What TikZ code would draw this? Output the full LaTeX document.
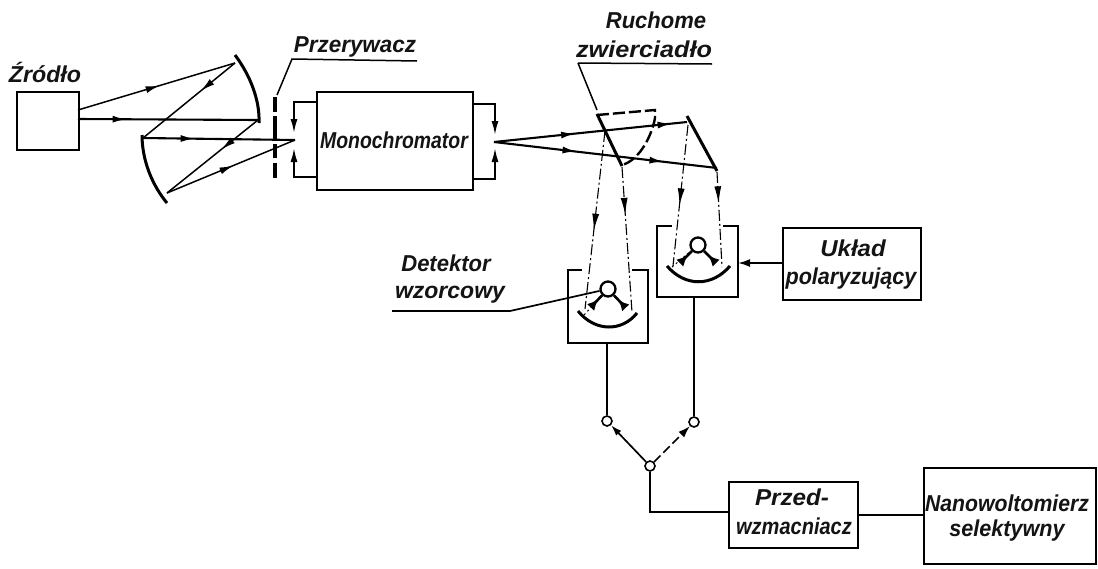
\documentclass[tikz,border=0pt]{standalone}
\usepackage{fontspec}
\setmainfont{Liberation Sans}
\usetikzlibrary{arrows.meta,decorations.markings}
\newcommand{\sxx}[2]{\scalebox{#1}[1]{\scalebox{0.87}[1]{#2}}}
\tikzset{
  x=1pt,y=-1pt,
  lbl/.style={font=\fontsize{23}{27}\selectfont\bfseries\itshape,inner sep=0pt,align=center,text=black!92},
  boxn/.style={draw,line width=2.1pt,inner sep=0pt,anchor=north west},
  ray/.style={line width=1.5pt},
  rayb/.style={line width=2.1pt},
  wire/.style={line width=1.8pt},
  lead/.style={line width=1.5pt},
  mirror/.style={line width=3pt},
  ddot/.style={line width=1.1pt,dash pattern=on 11pt off 3pt on 2pt off 3pt},
  midarr/.style={postaction={decorate,decoration={markings,mark=at position #1 with {\arrow{Latex[length=14pt,width=7pt]}}}}},
  midlong/.style={postaction={decorate,decoration={markings,mark=at position #1 with {\arrow{Latex[length=17pt,width=7pt]}}}}},
  wedge/.style={line width=2.6pt,postaction={decorate,decoration={markings,mark=at position .62 with {\arrow{Latex[length=11pt,width=10pt]}}}}},
  pin/.style={draw,circle,line width=1.6pt,minimum size=10pt,inner sep=0pt,fill=white},
  pivot/.style={draw,circle,line width=2.3pt,minimum size=15pt,inner sep=0pt,fill=white},
}
\begin{document}
\begin{tikzpicture}
\useasboundingbox (0,0) rectangle (1098,568);
\fill[white] (0,0) rectangle (1098,568);
% boxes
\node[boxn,minimum width=62pt,minimum height=58pt] (src) at (16,91) {};
\node[boxn,minimum width=156pt,minimum height=98pt] (mono) at (316,91) {};
\node[boxn,minimum width=138pt,minimum height=72pt] (pol) at (782,227) {};
\node[boxn,minimum width=129pt,minimum height=66pt] (pre) at (728,481) {};
\node[boxn,minimum width=172pt,minimum height=96pt] (nano) at (923,467) {};
% labels
\node[lbl] (monot) at (394,140) {\sxx{.97}{Monochromator}};
\node[lbl] (t1) at (45,72) {\sxx{1.16}{Źródło}};
\node[lbl] (t2) at (355,47) {\sxx{1.12}{Przerywacz}};
\node[lbl] (t3) at (656,20) {\sxx{1.1}{Ruchome}};
\node[lbl] (t4) at (644,49) {\sxx{1.26}{zwierciadło}};
\node[lbl] (t5) at (446,263) {\sxx{1.1}{Detektor}};
\node[lbl] (t6) at (450,295) {\sxx{1.15}{wzorcowy}};
\node[lbl] (t7) at (853,248) {\sxx{1.2}{Układ}};
\node[lbl] (t8) at (851,279) {\sxx{1.08}{polaryzujący}};
\node[lbl] (t9) at (792,497) {\sxx{1.21}{Przed-}};
\node[lbl] (t10) at (794,526) {\sxx{1.0}{wzmacniacz}};
\node[lbl] (t11) at (1007,503) {\sxx{1.06}{Nanowoltomierz}};
\node[lbl] (t12) at (1007,531) {\sxx{1.08}{selektywny}};
% points
\coordinate (s1) at (78,110);
\coordinate (s2) at (78,119);
\coordinate (ma) at (235,63);
\coordinate (mb) at (258,120);
\coordinate (mc) at (143,138);
\coordinate (md) at (167,193);
\coordinate (fi) at (295,140);
\coordinate (fo) at (494,142);
\coordinate (r1) at (687,122);
\coordinate (r2) at (717,168);
% source mirrors
\draw[mirror] (235,55) .. controls (250,75) and (260,100) .. (259,123);
\draw[mirror] (142,135) .. controls (142,160) and (152,185) .. (167,203);
\draw[ray,midarr=.52] (s1) -- (ma);
\draw[rayb,midarr=.27] (s2) -- (mb);
\draw[ray,midarr=.37] (ma) -- (mc);
\draw[rayb,midarr=.34] (mc) -- (fi);
\draw[ray,midarr=.4] (mb) -- (md);
\draw[ray,midarr=.52] (md) -- (fi);
% chopper
\coordinate (c1) at (275,97);
\coordinate (c2) at (275,181);
\draw[line width=3.2pt,dash pattern=on 15pt off 4pt on 24pt off 4pt on 14pt off 5pt] (c1) -- (c2);
\coordinate (l1) at (292,59);
\coordinate (l2) at (417,61);
\draw[lead] (277,95) -- (l1) -- (l2);
% monochromator connectors
\draw[wire,-{Latex[length=14pt,width=7pt]}] (mono.west |- 0,102) -- (294,102) -- (294,133);
\draw[wire,-{Latex[length=14pt,width=7pt]}] (mono.west |- 0,177) -- (294,177) -- (294,148);
\draw[wire,-{Latex[length=14pt,width=7pt]}] (mono.east |- 0,104) -- (495,104) -- (495,135);
\draw[wire,-{Latex[length=14pt,width=7pt]}] (mono.east |- 0,179) -- (495,179) -- (495,148);
% output rays
\draw[rayb,midarr=.42,midarr=.92] (fo) -- (r1);
\draw[rayb,midarr=.37,midarr=.76] (fo) -- (r2);
\draw[mirror] (597,114) -- (622,166);
\draw[mirror] (687,116) -- (717,171);
\draw[line width=2.4pt,dash pattern=on 12pt off 4pt] (597,115) -- (655,110) -- (655,118) .. controls (652,135) and (640,160) .. (622,165);
\draw[lead] (578,63) -- (712,64);
\draw[lead] (578,63) -- (597,110);
% dash-dot beams
\coordinate (b1) at (605,131);
\coordinate (b2) at (622,167);
\coordinate (b3) at (688,125);
\coordinate (b4) at (717,172);
\draw[ddot,midlong=.56] (b1) -- (585,309);
\draw[ddot,midlong=.33] (b2) -- (632,312);
\draw[ddot,midlong=.57] (b3) -- (673,266);
\draw[ddot,midlong=.33] (b4) -- (722,267);
% detectors
\coordinate (d1a) at (582,270); \coordinate (d1b) at (568,270); \coordinate (d1c) at (568,343);
\coordinate (d1d) at (648,343); \coordinate (d1e) at (648,270); \coordinate (d1f) at (632,270);
\draw[line width=2.1pt] (d1a) -- (d1b) -- (d1c) -- (d1d) -- (d1e) -- (d1f);
\coordinate (d2a) at (672,226); \coordinate (d2b) at (657,226); \coordinate (d2c) at (657,297);
\coordinate (d2d) at (738,297); \coordinate (d2e) at (738,226); \coordinate (d2f) at (723,226);
\draw[line width=2.1pt] (d2a) -- (d2b) -- (d2c) -- (d2d) -- (d2e) -- (d2f);
\draw[mirror] (578,311) .. controls (595,332) and (622,332) .. (637,313);
\draw[mirror] (667,266) .. controls (685,287) and (712,287) .. (730,266);
\node[pivot] (p1) at (608,289) {};
\node[pivot] (p2) at (698,245) {};
\coordinate (a1) at (584,315); \coordinate (a3) at (672,267);
\draw[line width=1pt,dash pattern=on 2pt off 3pt] (a1) -- (p1);
\draw[line width=1pt,dash pattern=on 2pt off 3pt] (a3) -- (p2);
\draw[wedge] (592,306) -- (p1);
\draw[wedge] (625,307) -- (p1);
\draw[wedge] (681,262) -- (p2);
\draw[wedge] (715,262) -- (p2);
% switches
\node[pin] (w1) at (607,421) {};
\node[pin] (w2) at (694,422) {};
\node[pin] (w3) at (650,466) {};
\draw[wire] (607,343) -- (w1);
\draw[line width=2.2pt] (694,297) -- (w2);
\draw[line width=1.7pt,-{Latex[length=11pt,width=7pt]}] (w3) -- (w1);
\draw[line width=1.7pt,dash pattern=on 9pt off 4pt,-{Latex[length=12pt,width=8pt]}] (w3) -- (w2);
\draw[wire] (w3) -- (650,512) -- (pre.west |- 0,512);
\draw[wire] (pre.east |- 0,515) -- (nano.west |- 0,515);
\draw[line width=1.8pt,-{Latex[length=12pt,width=8pt]}] (pol.west |- 0,263) -- (738,263);
% detector leader
\coordinate (u1) at (392,311); \coordinate (u2) at (510,311);
\draw[line width=1.7pt] (u1) -- (u2) -- (p1);
\end{tikzpicture}
\end{document}
